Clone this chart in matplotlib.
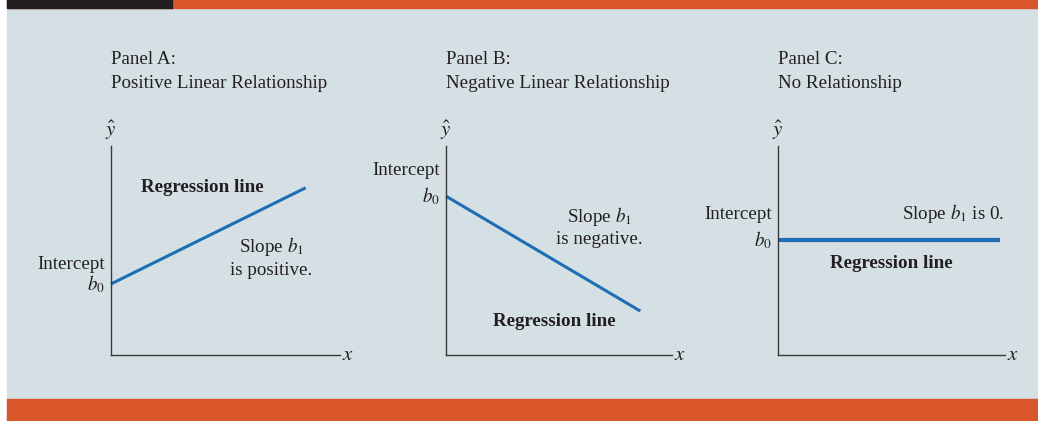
import matplotlib.pyplot as plt
from matplotlib.patches import Rectangle

plt.rcParams['font.family'] = ['Liberation Serif', 'DejaVu Serif']
plt.rcParams['mathtext.fontset'] = 'stix'

# panel titles
titles = ["Panel A:\nPositive Linear Relationship",
          "Panel B:\nNegative Linear Relationship",
          "Panel C:\nNo Relationship"]

# regression line end points (axis units 0-10)
line_x = [[0, 8.5], [0, 8.6], [0, 9.8]]
line_y = [[3.4, 8.0], [7.6, 2.1], [5.5, 5.5]]
line_w = [2.2, 2.2, 3.0]

# annotations
slope_text = ["Slope $b_1$\nis positive.", "Slope $b_1$\nis negative.", "Slope $b_1$ is 0."]
slope_pos = [(7.0, 4.7), (6.8, 6.15), (7.7, 6.75)]
reg_pos = [(4.0, 8.0), (4.8, 1.6), (5.0, 4.4)]
icpt_y = [4.35, 8.85, 6.7]

bg = "#d5e0e5"
orange = "#d9562a"
blue = "#1f6db3"
axis_col = "#3a3a3a"
txt = "#231f20"
fs = 13.7

fig = plt.figure(figsize=(10.38, 4.21), dpi=100)
W, H = 1038, 421

# background panel and bars
fig.patches.append(Rectangle((7 / W, 0), 1 - 7 / W, 1, transform=fig.transFigure,
                             color=bg, zorder=-3))
fig.patches.append(Rectangle((7 / W, 1 - 8 / H), 1 - 7 / W, 8 / H,
                             transform=fig.transFigure, color=orange, zorder=-2))
fig.patches.append(Rectangle((7 / W, 1 - 8 / H), 165 / W, 8 / H,
                             transform=fig.transFigure, color="#231f20", zorder=-1))
fig.patches.append(Rectangle((7 / W, 0), 1 - 7 / W, 22 / H,
                             transform=fig.transFigure, color=orange, zorder=-2))

# axes positions in pixels: left, right
ax_left = [111, 446, 778]
ax_right = [340, 672, 1005]
ax_bottom = 355
ax_top = 146

for i in range(3):
    l = ax_left[i] / W
    b = (H - ax_bottom) / H
    w = (ax_right[i] - ax_left[i]) / W
    h = (ax_bottom - ax_top) / H
    ax = fig.add_axes([l, b, w, h])
    ax.set_xlim(0, 10)
    ax.set_ylim(0, 10)
    ax.patch.set_alpha(0)
    for s in ["top", "right"]:
        ax.spines[s].set_visible(False)
    for s in ["left", "bottom"]:
        ax.spines[s].set_color(axis_col)
        ax.spines[s].set_linewidth(1.0)
    ax.set_xticks([])
    ax.set_yticks([])

    ax.plot(line_x[i], line_y[i], color=blue, lw=line_w[i], solid_capstyle="butt",
            clip_on=False)

    ax.text(0, 10.2, r"$\hat{y}$", fontsize=15, ha="center", va="bottom", color=txt)
    ax.text(10.1, 0, r"$x$", fontsize=15, ha="left", va="center", color=txt)

    ax.text(-0.25, icpt_y[i], "Intercept", fontsize=fs, ha="right", va="center", color=txt)
    ax.text(-0.25, line_y[i][0], "$b_0$", fontsize=fs, ha="right", va="center", color=txt)

    ax.text(slope_pos[i][0], slope_pos[i][1], slope_text[i], fontsize=fs, ha="center",
            va="center", color=txt, linespacing=1.3)
    ax.text(reg_pos[i][0], reg_pos[i][1], "Regression line", fontsize=fs,
            fontweight="bold", ha="center", va="center", color=txt)

    fig.text(ax_left[i] / W, 1 - 51 / H, titles[i], fontsize=fs, ha="left", va="top",
             color=txt, linespacing=1.55)

fig.savefig("out.png", dpi=100, facecolor="white")
